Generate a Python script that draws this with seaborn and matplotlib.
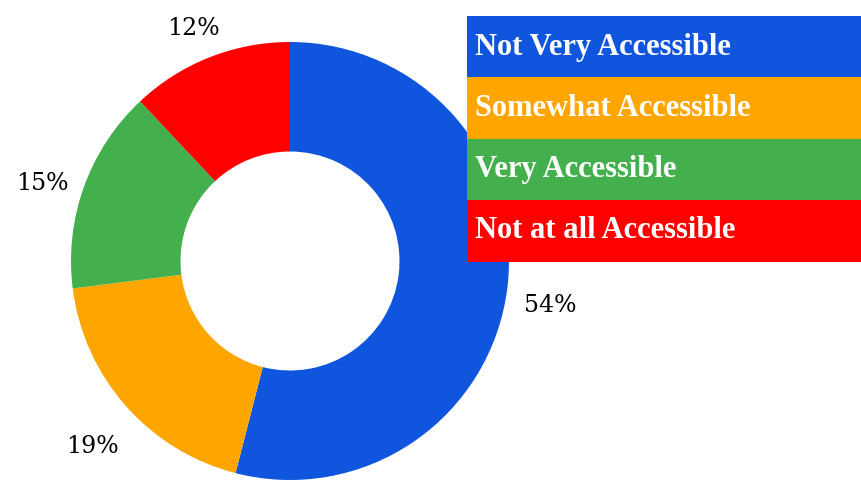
import matplotlib
matplotlib.use("Agg")
import matplotlib.pyplot as plt
import seaborn as sns
from matplotlib.patches import Rectangle

categories = ["Not Very Accessible", "Somewhat Accessible", "Very Accessible", "Not at all Accessible"]
values = [54, 19, 15, 12]
colors = ["#0F55DE", "#FFA500", "#43AF4D", "#FF0000"]

sns.set_theme(style="white")

W, H = 862, 480
fig = plt.figure(figsize=(W / 100, H / 100), dpi=100)
fig.patch.set_facecolor("white")

cx, cy, r = 290, 261, 219
ax = fig.add_axes([(cx - r) / W, (H - cy - r) / H, 2 * r / W, 2 * r / H])
wedges, texts, autotexts = ax.pie(
    values, colors=colors, startangle=90, counterclock=False,
    radius=1, wedgeprops=dict(width=0.5, linewidth=0),
    autopct=lambda p: f"{p:.0f}%", pctdistance=1.2,
    textprops=dict(fontsize=17, color="black"),
)
for t in autotexts:
    t.set_fontfamily(["DejaVu Serif"])
    t.set_va("top")
ax.set_xlim(-1, 1)
ax.set_ylim(-1, 1)
ax.set_aspect("equal")
ax.axis("off")

# Legend block (drawn on top of the donut)
lx0, lx1 = 467, 862
row_tops = [16, 77, 139, 200]
row_h = 62
for cat, col, top in zip(categories, colors, row_tops):
    rect = Rectangle((lx0 / W, (H - top - row_h) / H), (lx1 - lx0) / W, row_h / H,
                     transform=fig.transFigure, facecolor=col, edgecolor="none", zorder=5)
    fig.add_artist(rect)
    fig.text(475 / W, (H - top - row_h / 2) / H, cat, color="white",
             fontsize=22, fontweight="bold", family="Liberation Serif",
             va="center", ha="left", zorder=6)

fig.savefig("out.png", dpi=100, facecolor="white")
